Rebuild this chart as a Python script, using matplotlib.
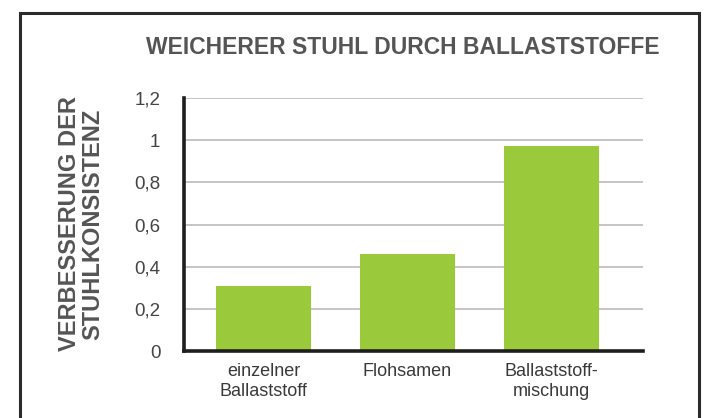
import matplotlib.pyplot as plt
from matplotlib.patches import Rectangle
from matplotlib.ticker import FixedLocator

categories = ['einzelner\nBallaststoff', 'Flohsamen', 'Ballaststoff-\nmischung']
values = [0.31, 0.46, 0.97]
y_ticks = [0, 0.2, 0.4, 0.6, 0.8, 1.0, 1.2]
y_tick_labels = ['0', '0,2', '0,4', '0,6', '0,8', '1', '1,2']

plt.rcParams['font.family'] = ['Liberation Sans', 'DejaVu Sans']

fig = plt.figure(figsize=(7.15, 4.18), dpi=100)

# outer frame (bottom edge runs off the picture)
fig.patches.append(Rectangle((20 / 715, -0.05), (699 - 20) / 715, (418 - 13) / 418 + 0.05,
                             transform=fig.transFigure, fill=False,
                             edgecolor='#2a2a2a', linewidth=2.2))

ax = fig.add_axes([184 / 715, (418 - 351) / 418, (643 - 184) / 715, (351 - 98) / 418])

x = range(len(categories))
ax.bar(x, values, width=0.66, color='#9bc93c', zorder=2)

ax.set_xlim(-0.552, 2.635)
ax.set_ylim(0, 1.2)
ax.yaxis.set_major_locator(FixedLocator(y_ticks))
ax.set_yticklabels(y_tick_labels, fontsize=13.5, color='#444444')
ax.set_xticks(list(x))
ax.set_xticklabels(categories, fontsize=13, color='#3a3a3a', linespacing=1.2)
ax.tick_params(axis='both', length=0)
ax.tick_params(axis='y', pad=17)
ax.tick_params(axis='x', pad=9)
ax.grid(axis='y', color='#bbbbbb', linewidth=1.2, zorder=0)

for s in ['top', 'right']:
    ax.spines[s].set_visible(False)
ax.spines['left'].set_color('#1e1e1e')
ax.spines['left'].set_linewidth(2.6)
ax.spines['bottom'].set_color('#1e1e1e')
ax.spines['bottom'].set_linewidth(2.6)
ax.spines['bottom'].set_zorder(3)

fig.text(403 / 715, 1 - 48 / 418, 'WEICHERER STUHL DURCH BALLASTSTOFFE',
         ha='center', va='center', fontsize=16.5, fontweight='bold', color='#555555')
fig.text(81 / 715, 1 - 224 / 418, 'VERBESSERUNG DER\nSTUHLKONSISTENZ',
         ha='center', va='center', rotation=90, fontsize=17, fontweight='bold',
         color='#555555', linespacing=1.05)

fig.savefig('out.png', dpi=100)
